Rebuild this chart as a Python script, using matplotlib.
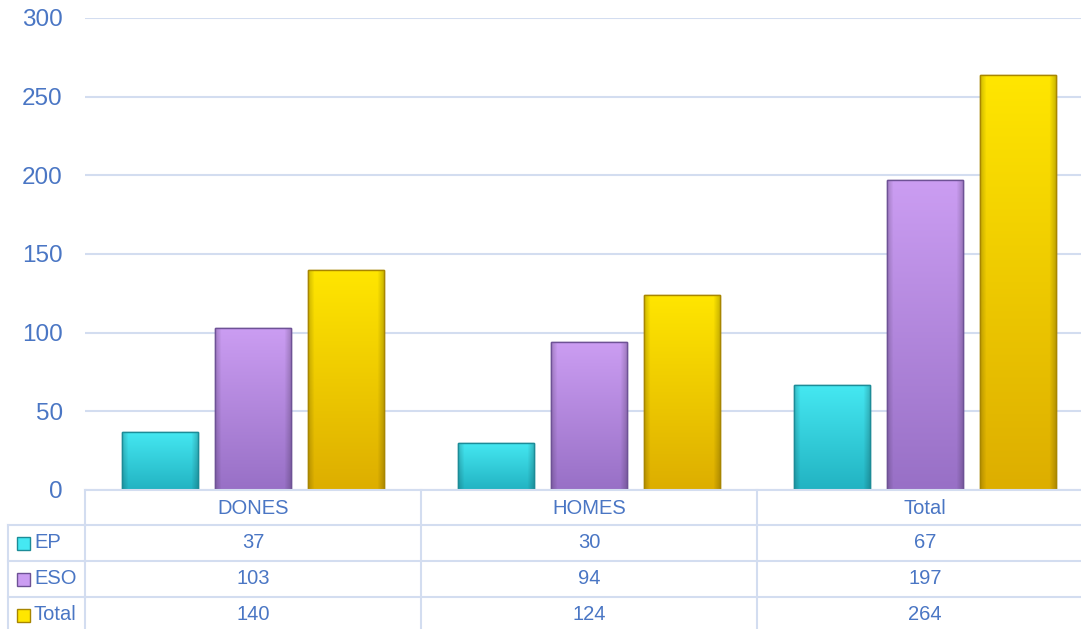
import matplotlib
matplotlib.use("Agg")
import matplotlib.pyplot as plt
import numpy as np
from matplotlib.colors import to_rgb
from matplotlib.transforms import blended_transform_factory
from matplotlib.lines import Line2D
from matplotlib.patches import Rectangle

categories = ["DONES", "HOMES", "Total"]
series_names = ["EP", "ESO", "Total"]
ep = [37, 30, 67]
eso = [103, 94, 197]
total = [140, 124, 264]
yticks = [0, 50, 100, 150, 200, 250, 300]

# (top colour, bottom colour, edge colour)
shades = [
    ("#45E8F2", "#22B3C2", "#1C8C98"),
    ("#CB9DF2", "#9870C6", "#6E5296"),
    ("#FFE600", "#DDAE00", "#A88600"),
]
text_color = "#4A76C4"
grid_color = "#D3DDF0"

plt.rcParams["font.family"] = ["Liberation Sans", "DejaVu Sans"]

W, H = 1081, 629
fig = plt.figure(figsize=(W / 100, H / 100), dpi=100)


def fx(x):
    return x / W


def fy(y):
    return 1 - y / H


ax = fig.add_axes([fx(85), fy(490), fx(1093 - 85), fy(18) - fy(490)])
ax.set_xlim(-0.5, len(categories) - 0.5)
ax.set_ylim(0, 300)
for s in ax.spines.values():
    s.set_visible(False)
ax.set_yticks(yticks)
ax.set_yticklabels([str(t) for t in yticks], fontsize=17.5, color=text_color)
ax.tick_params(axis="y", length=0, pad=16)
ax.set_xticks([])
ax.yaxis.grid(True, color=grid_color, lw=1.5)
ax.set_axisbelow(True)


def gradient(top, bottom, n=64):
    t = np.linspace(0, 1, n)[:, None]
    c1, c2 = np.array(to_rgb(top)), np.array(to_rgb(bottom))
    img = (1 - t)[..., None] * c1 + t[..., None] * c2
    img = np.repeat(img, n, axis=1)
    # darker side edges for the bevel look
    u = np.linspace(0, 1, n)[None, :]
    edge = np.clip(np.minimum(u, 1 - u) / 0.08, 0, 1)
    shade = 0.82 + 0.18 * edge
    img = img * shade[..., None]
    return np.clip(img, 0, 1)


x = np.arange(len(categories))
width = 0.226
step = 0.277
for i, (vals, (top, bot, edge)) in enumerate(zip([ep, eso, total], shades)):
    bars = ax.bar(x + (i - 1) * step, vals, width, color=top,
                  edgecolor=edge, linewidth=1.0, zorder=2)
    for b in bars:
        x0, w, h = b.get_x(), b.get_width(), b.get_height()
        im = ax.imshow(gradient(top, bot), extent=(x0, x0 + w, 0, h),
                       aspect="auto", zorder=2.5, interpolation="bilinear")
        im.set_clip_path(b)
        ax.add_patch(Rectangle((x0, 0), w, h, fill=False, edgecolor=edge,
                               lw=1.0, zorder=3))
ax.set_xlim(-0.5, len(categories) - 0.5)
ax.set_ylim(0, 300)

# data table below the axes
tr = blended_transform_factory(ax.transData, fig.transFigure)
row_lines = [490, 525, 561, 597]
row_centers = [543, 579, 615]
for k, yl in enumerate(row_lines):
    if k > 0:
        fig.add_artist(Line2D([fx(8), fx(85)], [fy(yl), fy(yl)],
                              color=grid_color, lw=1.5))
    fig.add_artist(Line2D([-0.5, 2.5], [fy(yl), fy(yl)], transform=tr,
                          color=grid_color, lw=1.5, clip_on=False))
for c in range(len(categories) + 1):
    fig.add_artist(Line2D([c - 0.5, c - 0.5], [fy(490), 0], transform=tr,
                          color=grid_color, lw=1.5))
fig.add_artist(Line2D([fx(8), fx(8)], [fy(525), 0], color=grid_color, lw=1.5))

fs = 14.5
for j, cat in enumerate(categories):
    fig.text(j, fy(508), cat, transform=tr, ha="center", va="center",
             fontsize=fs, color=text_color)

for r, (name, vals, (top, bot, edge)) in enumerate(zip(series_names, [ep, eso, total], shades)):
    yc = fy(row_centers[r])
    fig.add_artist(Rectangle((fx(17), yc - 6.5 / H), 13 / W, 13 / H,
                             facecolor=top, edgecolor=edge, lw=1.0,
                             transform=fig.transFigure))
    fig.text(fx(34), yc, name, ha="left", va="center", fontsize=fs,
             color=text_color)
    for j, v in enumerate(vals):
        fig.text(j, yc, str(v), transform=tr, ha="center", va="center",
                 fontsize=fs, color=text_color)

fig.savefig("out.png", dpi=100)
